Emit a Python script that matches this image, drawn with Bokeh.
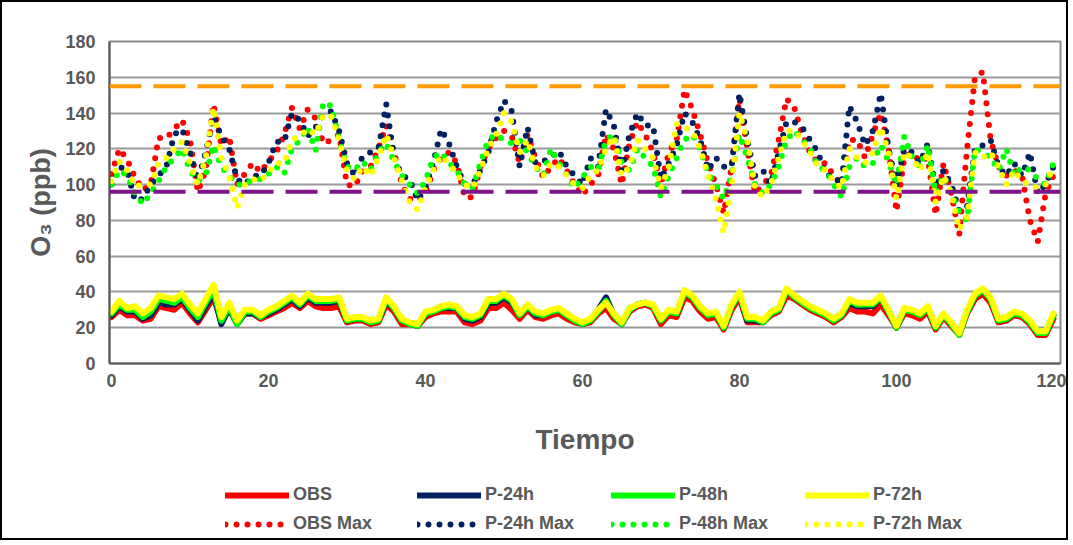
from bokeh.plotting import figure
from bokeh.layouts import column
from bokeh.models import Range1d, Span, Legend, LegendItem, FixedTicker
from bokeh.embed import file_html
from bokeh.resources import INLINE

x = list(range(121))

obs = [26,30,27,27,24,25,32,31,30,34,
       28,23,30,37,24,30,23,28,28,25,
       27,29,31,34,31,35,32,31,31,32,
       23,24,24,22,23,33,29,22,22,21,
       26,28,29,29,29,23,22,24,31,31,
       34,30,25,30,26,25,27,28,25,23,
       22,23,28,31,25,22,29,32,33,31,
       22,27,26,37,35,29,25,26,19,30,
       37,23,23,23,27,29,38,36,33,30,
       28,26,23,26,31,29,29,28,33,27,
       20,28,27,25,29,19,26,21,16,28,
       36,39,34,23,24,27,26,22,16,16,25]

p24 = [27,32,29,29,25,27,34,33,33,36,
       30,24,32,39,22,31,22,28,28,26,
       28,30,33,36,32,37,34,34,34,35,
       24,25,25,23,24,35,31,24,22,21,
       28,29,31,31,31,25,24,26,34,34,
       37,34,27,32,27,27,29,30,27,24,
       22,24,30,37,27,22,30,33,34,32,
       24,29,28,40,37,31,27,28,20,32,
       39,24,24,23,28,30,41,37,34,31,
       29,27,24,27,34,32,32,32,37,29,
       20,30,29,27,31,20,27,22,17,29,
       38,41,36,24,25,28,27,23,17,17,27]

p48 = [28,33,30,30,26,29,36,35,34,37,
       31,26,34,41,24,32,22,29,29,26,
       29,31,34,37,33,38,35,35,35,36,
       24,25,25,23,24,36,31,24,22,21,
       28,29,31,32,31,26,25,27,35,35,
       38,35,27,32,28,27,29,30,27,24,
       22,24,29,35,27,22,30,33,34,32,
       24,29,28,40,37,31,27,28,20,32,
       39,25,25,23,28,30,41,37,34,31,
       29,27,24,27,35,33,33,33,37,29,
       20,30,29,27,31,20,27,22,16,29,
       38,41,36,24,25,28,27,23,17,17,27]

p72 = [29,35,31,32,28,31,38,37,36,39,
       33,28,36,44,26,34,24,30,30,27,
       30,32,35,38,34,39,36,36,36,37,
       25,26,26,24,25,37,32,25,23,22,
       29,30,32,33,32,27,26,28,36,36,
       39,36,28,33,29,28,30,31,28,25,
       23,25,30,34,28,23,31,33,34,33,
       25,30,29,41,38,32,28,29,21,33,
       40,26,26,24,29,31,42,38,35,32,
       30,28,25,28,36,34,34,34,38,30,
       21,31,30,28,32,21,28,23,17,30,
       39,42,37,25,26,29,28,24,18,18,28]

obs_max = [106,120,114,104,97,100,126,126,131,136,
           125,96,108,145,122,127,100,106,112,107,
           113,118,128,143,131,142,137,123,125,128,
           100,99,108,110,120,133,118,100,92,91,
           95,108,115,118,112,93,93,110,120,126,
           130,127,112,128,115,104,110,115,108,100,
           94,100,105,128,120,100,123,135,128,118,
           100,118,125,153,142,128,112,100,84,110,
           148,120,95,100,105,125,148,143,128,118,
           112,112,105,100,125,125,115,128,140,120,
           85,115,118,113,115,83,112,95,72,120,
           160,163,125,110,105,108,105,80,68,95,105]

p24_max = [100,110,108,91,92,100,105,110,128,131,
           118,102,118,138,127,120,103,100,105,105,
           112,124,124,140,136,127,132,139,141,130,
           112,105,116,118,120,145,115,105,103,91,
           98,112,131,123,110,100,100,108,118,135,
           147,141,110,132,112,113,115,119,110,105,
           100,115,110,142,133,108,128,140,133,133,
           103,112,122,140,135,125,108,115,110,110,
           151,125,105,108,100,118,135,135,132,125,
           118,105,105,100,144,135,122,130,151,120,
           100,120,118,112,123,98,108,100,85,88,
           120,122,125,110,105,112,105,118,95,100,110]

p48_max = [100,108,105,95,89,95,102,110,115,120,
           108,102,105,122,110,105,100,100,103,103,
           106,110,106,120,125,132,119,146,144,125,
           110,108,113,108,118,123,113,105,100,95,
           102,115,118,112,108,100,98,112,125,128,
           125,123,125,118,110,105,120,112,105,98,
           104,110,108,125,128,112,108,120,115,110,
           93,105,115,125,128,120,106,100,92,105,
           128,115,100,95,100,110,125,130,125,120,
           110,108,100,93,110,115,110,112,122,113,
           100,127,115,110,122,95,105,95,85,80,
           120,118,115,108,120,105,110,108,103,100,112]

p72_max = [102,113,108,99,100,100,112,115,120,124,
           112,100,115,143,115,105,87,100,103,102,
           107,112,112,125,127,131,128,139,138,125,
           108,103,110,105,115,128,115,102,90,86,
           98,108,116,112,106,100,98,108,120,128,
           140,135,118,125,110,105,112,110,105,100,
           98,105,108,120,127,105,110,125,120,115,
           98,110,134,132,130,120,105,92,73,100,
           140,125,98,93,100,115,130,130,125,118,
           110,108,102,98,120,115,112,118,132,118,
           92,118,115,108,118,90,105,95,75,82,
           118,115,118,110,100,108,102,100,98,100,110]

upper_limit = 155
lower_limit = 96
x_ticks = [0, 20, 40, 60, 80, 100, 120]
y_ticks = [0, 20, 40, 60, 80, 100, 120, 140, 160, 180]

names = ["OBS", "P-24h", "P-48h", "P-72h"]
colors = ["#FF0000", "#002060", "#00FF00", "#FFFF00"]
solid = [obs, p24, p48, p72]
maxes = [obs_max, p24_max, p48_max, p72_max]

FONT = "Liberation Sans"
GREY = "#595959"
LW = 6
DOT = "0 11"
W = 1064

p = figure(frame_width=951, frame_height=322,
           x_range=Range1d(-0.25, 120.9), y_range=Range1d(0, 180),
           output_backend="svg", toolbar_location=None,
           min_border_left=107, min_border_top=39, min_border_right=6,
           min_border_bottom=100,
           background_fill_color="white", border_fill_color="white")

p.outline_line_color = "#8C8C8C"
p.outline_line_width = 2

p.xgrid.visible = False
p.ygrid.ticker = FixedTicker(ticks=y_ticks)
p.ygrid.grid_line_color = "#9A9A9A"
p.ygrid.grid_line_width = 2

for ax in (p.xaxis[0], p.yaxis[0]):
    ax.axis_line_color = GREY
    ax.axis_line_width = 2
    ax.major_tick_out = 0
    ax.major_tick_in = 0
    ax.minor_tick_out = 0
    ax.minor_tick_in = 0
    ax.major_label_text_font = FONT
    ax.major_label_text_font_style = "bold"
    ax.major_label_text_font_size = "18px"
    ax.major_label_text_color = GREY
    ax.axis_label_text_font = FONT
    ax.axis_label_text_font_style = "bold"
    ax.axis_label_text_color = GREY

p.xaxis.ticker = FixedTicker(ticks=x_ticks)
p.yaxis.ticker = FixedTicker(ticks=y_ticks)
p.xaxis.major_label_standoff = 10
p.yaxis.major_label_standoff = 14
p.xaxis.axis_label = "Tiempo"
p.xaxis.axis_label_text_font_size = "28px"
p.xaxis.axis_label_standoff = 34
p.yaxis.axis_label = "O\u2083 (ppb)"
p.yaxis.axis_label_text_font_size = "27px"
p.yaxis.axis_label_standoff = 6

p.add_layout(Span(location=upper_limit, dimension="width", line_color="#FF9A00",
                  line_width=4, line_dash="32 12"))
p.add_layout(Span(location=lower_limit, dimension="width", line_color="#80138A",
                  line_width=4, line_dash="32 12"))

for ys, c in zip(solid, colors):
    p.line(x, ys, line_color=c, line_width=LW, line_join="round", line_cap="round")
for ys, c in zip(maxes, colors):
    p.line(x, ys, line_color=c, line_width=LW, line_dash=DOT, line_cap="round")

# legend strip: a second figure; its renderers hold points outside its range
q = figure(width=W, height=75, x_range=Range1d(0, 1), y_range=Range1d(0, 1),
           output_backend="svg", toolbar_location=None,
           min_border=0, min_border_left=0, min_border_right=0,
           min_border_top=0, min_border_bottom=0,
           background_fill_color="white", border_fill_color="white")
q.axis.visible = False
q.grid.visible = False
q.outline_line_color = None

starts = [225, 417, 611, 805]
for i in range(4):
    rs = q.line([5, 6], [5, 6], line_color=colors[i], line_width=LW, line_cap="round")
    rm = q.line([5, 6], [5, 6], line_color=colors[i], line_width=LW, line_dash=DOT,
                line_cap="round")
    leg = Legend(items=[LegendItem(label=names[i], renderers=[rs]),
                        LegendItem(label=names[i] + " Max", renderers=[rm])],
                 location=(starts[i] - 109, 4),
                 orientation="vertical",
                 glyph_width=64, glyph_height=20, label_standoff=4, spacing=8,
                 padding=0, margin=0,
                 border_line_alpha=0, background_fill_alpha=0,
                 label_text_font=FONT, label_text_font_style="bold",
                 label_text_font_size="18px", label_text_color=GREY)
    q.add_layout(leg)

layout = column(p, q, spacing=0)
layout.styles = {"border": "2px solid #000000"}

open("out.html", "w").write(file_html(layout, INLINE))
